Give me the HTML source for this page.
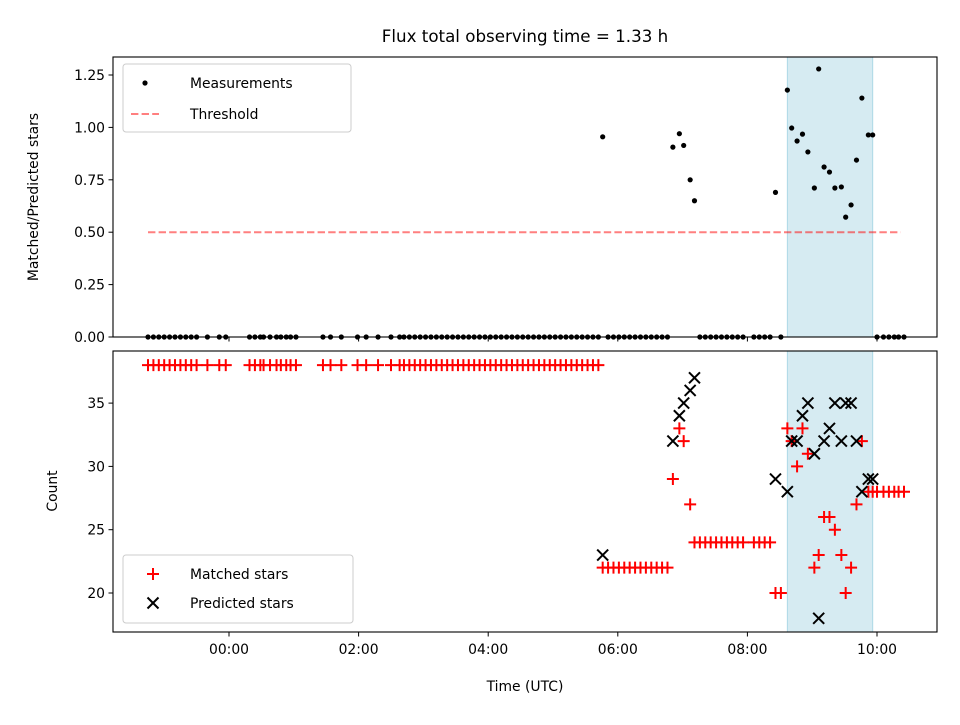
<!DOCTYPE html>
<html><head><meta charset="utf-8"><style>
body{margin:0;background:#fff;}
svg text{font-family:"DejaVu Sans","Liberation Sans",sans-serif;fill:#000;}
</style></head><body>
<svg id="chart" width="960" height="720" xmlns="http://www.w3.org/2000/svg">
<rect width="960" height="720" fill="#fff"/>
<text x="525" y="42" font-size="16.7" text-anchor="middle">Flux total observing time = 1.33 h</text>
<g id="topg"></g><g id="botg"></g>
</svg>
<script>
// times in minutes from 00:00 UTC
const zeroTimes=[-75,-70,-65,-60,-55,-50,-45,-40,-35,-30,-20,-9,-3,19,24,29,32,38,44,48,53,57,62,87,94,104,119,127,138,150,158,162,167,172,177,182,187,192,197,202,207,212,217,222,227,232,237,242,247,252,257,262,267,272,277,282,287,292,297,302,307,312,317,322,327,332,337,342,351,356,361,366,371,376,381,386,391,396,401,406,436,441,446,451,456,461,466,471,476,486,491,496,501,511,600,606,611,616,620,625];
const ratioTimes=[346,411,417,421,427,431,506,517,521,526,531,536,542,546,551,556,561,567,571,576,581,586,592,596];
const ratioValues=[0.955,0.906,0.97,0.914,0.75,0.65,0.69,1.178,0.997,0.935,0.968,0.883,0.711,1.279,0.811,0.787,0.711,0.716,0.572,0.63,0.844,1.14,0.964,0.964];
const matchedTimes=[-75,-70,-65,-60,-55,-50,-45,-40,-35,-30,-20,-9,-3,19,24,29,32,38,44,48,53,57,62,87,94,104,119,127,138,150,158,162,167,172,177,182,187,192,197,202,207,212,217,222,227,232,237,242,247,252,257,262,267,272,277,282,287,292,297,302,307,312,317,322,327,332,337,342,346,351,356,361,366,371,376,381,386,391,396,401,406,411,417,421,427,431,436,441,446,451,456,461,466,471,476,486,491,496,501,506,511,517,521,526,531,536,542,546,551,556,561,567,571,576,581,586,592,596,600,606,611,616,620,625];
const matchedValues=[38,38,38,38,38,38,38,38,38,38,38,38,38,38,38,38,38,38,38,38,38,38,38,38,38,38,38,38,38,38,38,38,38,38,38,38,38,38,38,38,38,38,38,38,38,38,38,38,38,38,38,38,38,38,38,38,38,38,38,38,38,38,38,38,38,38,38,38,22,22,22,22,22,22,22,22,22,22,22,22,22,29,33,32,27,24,24,24,24,24,24,24,24,24,24,24,24,24,24,20,20,33,32,30,33,31,22,23,26,26,25,23,20,22,27,32,28,28,28,28,28,28,28,28];
const predTimes=[346,411,417,421,427,431,506,517,521,526,531,536,542,546,551,556,561,567,571,576,581,586,592,596];
const predValues=[23,32,34,35,36,37,29,28,32,32,34,35,31,18,32,33,35,32,35,35,32,28,29,29];
const xTicks=[0,120,240,360,480,600];
const xTickLabels=["00:00","02:00","04:00","06:00","08:00","10:00"];
const topTicks=[0,0.25,0.5,0.75,1.0,1.25];
const botTicks=[20,25,30,35];
const threshold=0.5, thrStart=-75, thrEnd=622;
const shadeStart=517, shadeEnd=596;

const NS="http://www.w3.org/2000/svg";
const L=113,R=937,T1=57,B1=337,T2=351,B2=632;
const xS=m=>229+m*64.8/60;
const yTop=v=>337-v*209.6;
const yBot=v=>593-(v-20)*12.66;
function mk(tag,attrs,parent,text){const e=document.createElementNS(NS,tag);for(const k in attrs)e.setAttribute(k,attrs[k]);if(text!==undefined)e.textContent=text;parent.appendChild(e);return e;}
const gTop=document.getElementById('topg'),gBot=document.getElementById('botg');

for(const [g,t,b] of [[gTop,T1,B1],[gBot,T2,B2]]){
  const s=mk('rect',{x:xS(shadeStart),y:t,width:xS(shadeEnd)-xS(shadeStart),height:b-t,fill:'#add8e6','fill-opacity':0.5,stroke:'#add8e6','stroke-width':1},g);
  
  
}
const th=mk('line',{x1:xS(thrStart),x2:xS(thrEnd),y1:yTop(threshold),y2:yTop(threshold),stroke:'#ff0000','stroke-opacity':0.5,'stroke-width':2,'stroke-dasharray':'7.4,3.2'},gTop);


zeroTimes.forEach(t=>{const c=mk('circle',{cx:xS(t),cy:yTop(0),r:2.6,fill:'#000'},gTop);

});
ratioTimes.forEach((t,i)=>{const c=mk('circle',{cx:xS(t),cy:yTop(ratioValues[i]),r:2.6,fill:'#000'},gTop);

});
function plus(g,x,y,col){return mk('path',{d:`M${x-6},${y}H${x+6}M${x},${y-6}V${y+6}`,stroke:col,'stroke-width':2,fill:'none'},g);}
function cross(g,x,y){return mk('path',{d:`M${x-5.5},${y-5.5}L${x+5.5},${y+5.5}M${x-5.5},${y+5.5}L${x+5.5},${y-5.5}`,stroke:'#000','stroke-width':2,fill:'none'},g);}
matchedTimes.forEach((t,i)=>{const p=plus(gBot,xS(t),yBot(matchedValues[i]),'#ff0000');

});
predTimes.forEach((t,i)=>{const p=cross(gBot,xS(t),yBot(predValues[i]));

});
for(const [g,t,b,n] of [[gTop,T1,B1,'top-axes-frame'],[gBot,T2,B2,'bottom-axes-frame']]){
  const r=mk('rect',{x:L,y:t,width:R-L,height:b-t,fill:'none',stroke:'#000','stroke-width':1.1},g);
  
  
  xTicks.forEach(m=>mk('line',{x1:xS(m),x2:xS(m),y1:b,y2:b+4.5,stroke:'#000','stroke-width':1},g));
}
xTicks.forEach((m,i)=>{const tx=mk('text',{x:xS(m),y:B2+22,'font-size':13.9,'text-anchor':'middle'},gBot,xTickLabels[i]);

});
topTicks.forEach(v=>{mk('line',{x1:L-4.5,x2:L,y1:yTop(v),y2:yTop(v),stroke:'#000'},gTop);
const tx=mk('text',{x:L-8,y:yTop(v)+5,'font-size':13.9,'text-anchor':'end'},gTop,v.toFixed(2));

});
botTicks.forEach(v=>{mk('line',{x1:L-4.5,x2:L,y1:yBot(v),y2:yBot(v),stroke:'#000'},gBot);
const tx=mk('text',{x:L-8,y:yBot(v)+5,'font-size':13.9,'text-anchor':'end'},gBot,String(v));

});
let a=mk('text',{x:0,y:0,'font-size':13.9,'text-anchor':'middle',transform:'translate(38,197) rotate(-90)'},gTop,'Matched/Predicted stars');

a=mk('text',{x:0,y:0,'font-size':13.9,'text-anchor':'middle',transform:'translate(57,491) rotate(-90)'},gBot,'Count');

a=mk('text',{x:525,y:691,'font-size':13.9,'text-anchor':'middle'},gBot,'Time (UTC)');

let lg=mk('rect',{x:123,y:64,width:228,height:68,rx:3,fill:'#fff','fill-opacity':0.8,stroke:'#ccc'},gTop);

mk('circle',{cx:145,cy:83,r:2.6,fill:'#000'},gTop);
a=mk('text',{x:190,y:88,'font-size':13.9},gTop,'Measurements');
mk('line',{x1:131,x2:159,y1:114,y2:114,stroke:'#ff0000','stroke-opacity':0.5,'stroke-width':2,'stroke-dasharray':'7.4,3.2'},gTop);
a=mk('text',{x:190,y:119,'font-size':13.9},gTop,'Threshold');
lg=mk('rect',{x:123,y:555,width:230,height:68,rx:3,fill:'#fff','fill-opacity':0.8,stroke:'#ccc'},gBot);

plus(gBot,153,574,'#ff0000');cross(gBot,153,603);
a=mk('text',{x:190,y:579,'font-size':13.9},gBot,'Matched stars');
a=mk('text',{x:190,y:608,'font-size':13.9},gBot,'Predicted stars');
</script>
</body></html>
